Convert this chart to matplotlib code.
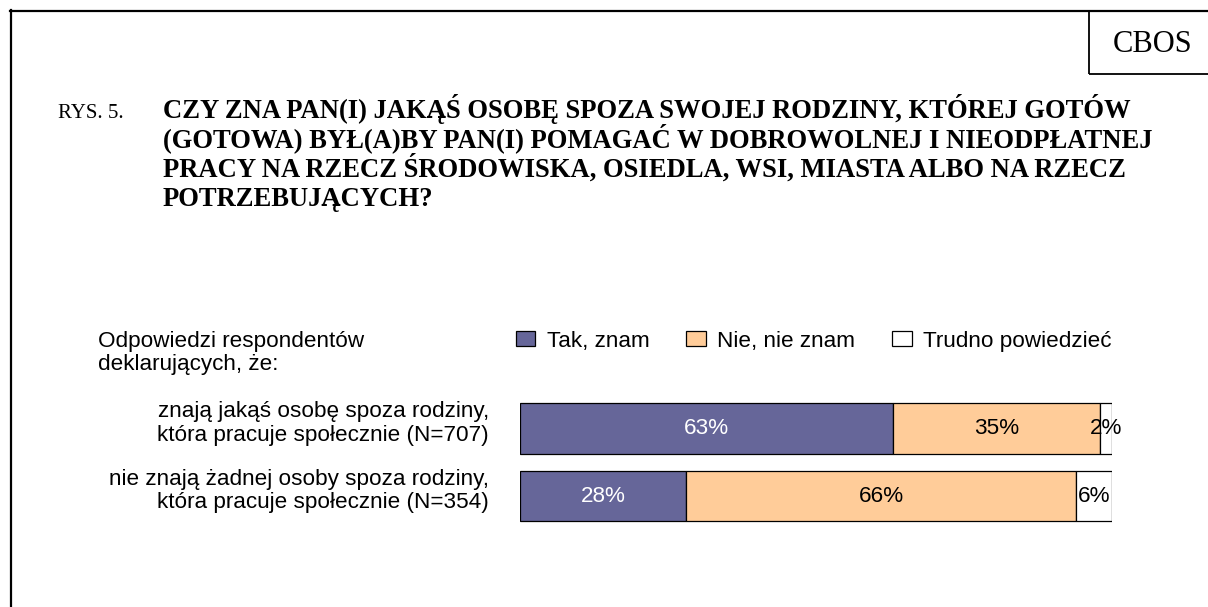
import matplotlib
matplotlib.use("Agg")
import matplotlib.pyplot as plt
from matplotlib.lines import Line2D
from matplotlib.patches import Rectangle

categories = [
    "znają jakąś osobę spoza rodziny,\nktóra pracuje społecznie (N=707)",
    "nie znają żadnej osoby spoza rodziny,\nktóra pracuje społecznie (N=354)",
]
series_names = ["Tak, znam", "Nie, nie znam", "Trudno powiedzieć"]
tak = [63, 28]
nie = [35, 66]
trudno = [2, 6]
series_values = [tak, nie, trudno]
colors = ["#666699", "#FFCC99", "#FFFFFF"]
label_colors = ["white", "black", "black"]

title_prefix = "RYS. 5."
title_lines = [
    "CZY ZNA PAN(I) JAKĄŚ OSOBĘ SPOZA SWOJEJ RODZINY, KTÓREJ GOTÓW",
    "(GOTOWA) BYŁ(A)BY PAN(I) POMAGAĆ W DOBROWOLNEJ I NIEODPŁATNEJ",
    "PRACY NA RZECZ ŚRODOWISKA, OSIEDLA, WSI, MIASTA ALBO NA RZECZ",
    "POTRZEBUJĄCYCH?",
]
side_note = "Odpowiedzi respondentów\ndeklarujących, że:"

W, H = 1208, 607
fig = plt.figure(figsize=(W / 100, H / 100), dpi=100)
fig.patch.set_facecolor("white")


def fx(x):
    return x / W


def fy(y):
    return 1 - y / H


sans = ["Liberation Sans", "DejaVu Sans"]
serif = ["Liberation Serif", "DejaVu Serif"]
FS = 16.2

# Frame lines
fig.add_artist(Line2D([fx(11), fx(11)], [fy(10), fy(H + 5)], color="black", lw=1.6,
                      transform=fig.transFigure))
fig.add_artist(Line2D([fx(10), fx(W + 5)], [fy(11), fy(11)], color="black", lw=1.6,
                      transform=fig.transFigure))
fig.add_artist(Rectangle((fx(1089), fy(74)), fx(W + 10) - fx(1089), fy(11) - fy(74),
                         fill=False, edgecolor="black", lw=1.3, transform=fig.transFigure))
fig.text(fx(1153), fy(52), "CBOS", ha="center", va="baseline", fontsize=22,
         family=serif, color="black")

# Title
fig.text(fx(58), fy(118), title_prefix, ha="left", va="baseline", fontsize=15,
         family=serif)
for i, line in enumerate(title_lines):
    fig.text(fx(163), fy(118 + 29.3 * i), line, ha="left", va="baseline", fontsize=19.2,
             family=serif, weight="bold")

# Side note
fig.text(fx(98), fy(353), side_note, ha="left", va="center", fontsize=FS,
         family=sans, linespacing=1.12)

# Axes
ax_left, ax_right = 520, 1112
ax_top, ax_bot = 394.75, 529.75
ax = fig.add_axes([fx(ax_left), fy(ax_bot), fx(ax_right) - fx(ax_left), (ax_bot - ax_top) / H])
ypos = list(range(len(categories)))
left = [0] * len(categories)
handles = []
for name, vals, col, lc in zip(series_names, series_values, colors, label_colors):
    bars = ax.barh(ypos, vals, left=left, height=0.75, color=col, edgecolor="black",
                   linewidth=0.9, label=name)
    handles.append(bars)
    for y, v, l in zip(ypos, vals, left):
        ax.text(l + v / 2, y, f"{v}%", ha="center", va="center", color=lc,
                fontsize=FS, family=sans)
    left = [a + b for a, b in zip(left, vals)]

ax.set_xlim(0, 100)
ax.set_ylim(len(categories) - 0.5, -0.5)
ax.set_yticks([])
ax.set_xticks([])
for s in ax.spines.values():
    s.set_visible(False)

# Category labels (right-aligned, slightly above bar centres)
px_per_unit_x = (ax_right - ax_left) / 100
px_per_unit_y = (ax_bot - ax_top) / 2
for y, cat in zip(ypos, categories):
    ax.text(-31 / px_per_unit_x, y - 5 / px_per_unit_y, cat, ha="right", va="center",
            multialignment="right", fontsize=FS, family=sans, linespacing=1.17,
            clip_on=False)

fig.legend(handles=handles, labels=series_names, loc="center left",
           bbox_to_anchor=(fx(516), fy(341)), ncol=3, frameon=False,
           prop={"family": sans, "size": FS}, handlelength=0.86, handleheight=0.6,
           handletextpad=0.5, columnspacing=1.65, borderaxespad=0, borderpad=0)

fig.savefig("out.png", dpi=100, facecolor="white")
